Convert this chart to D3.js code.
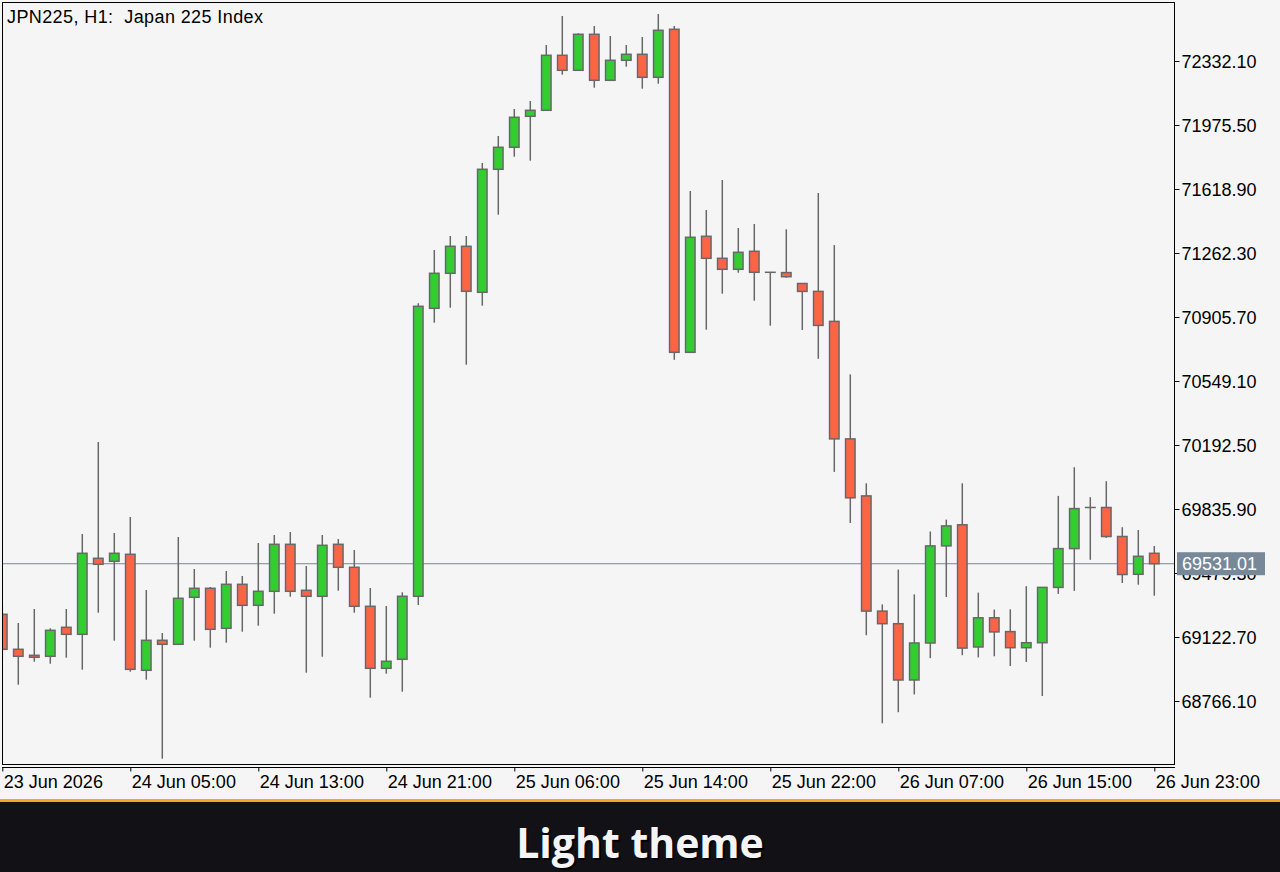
<!DOCTYPE html>
<html>
<head>
<meta charset="utf-8">
<script src="https://cdn.jsdelivr.net/npm/d3@7"></script>
<style>
  html, body { margin: 0; padding: 0; background: #f5f5f5; }
  svg { display: block; }
</style>
</head>
<body>
<svg id="chart" width="1280" height="872"></svg>
<script>
// ---- data ----
const title = "JPN225, H1:  Japan 225 Index";
const days = ["23", "24", "25", "26"];
const firstHour = [20, 1, 1, 1];
const opens = [69249.2,69054.2,69020.7,69015.2,69176.7,69137.7,69561.2,69544.5,69583.5,68937.2,
  69104.3,69082.0,69343.9,69394.0,69171.2,69416.3,69299.3,69377.3,69639.2,69382.9,
  69349.5,69639.2,69511.1,69293.8,68948.3,68998.4,69349.5,70954.2,71149.2,71299.6,
  71043.3,71728.7,71851.3,72024.0,72057.4,72363.9,72280.3,72480.9,72224.6,72336.0,
  72369.4,72241.3,72508.7,70709.0,71355.4,71232.8,71171.5,71271.8,71154.8,71153.1,
  71092.4,71048.4,70881.2,70226.5,69908.9,69267.0,69196.8,68883.1,69089.3,69630.3,
  69747.9,69067.0,69229.7,69152.8,69063.1,69090.9,69399.1,69615.3,69844.3,69844.3,
  69682.7,69472.1,69589.1];
const highs = [69300.0,69200.7,69278.7,69171.2,69278.7,69696.6,70209.2,69702.2,69791.3,69384.6,
  69145.0,69679.9,69501.6,69401.3,69490.4,69462.6,69646.5,69691.0,69707.7,69518.3,
  69691.0,69668.7,69607.5,69395.7,69295.4,69371.8,70982.0,71279.0,71357.0,71357.0,
  71763.8,71914.2,72064.7,72109.2,72421.3,72582.8,72486.5,72527.1,72471.4,72421.3,
  72465.8,72594.0,72527.1,71607.8,71501.9,71669.1,71401.6,71423.9,71154.8,71394.4,
  71092.4,71596.6,71306.3,70585.9,69979.1,69304.3,69498.2,69360.1,69710.5,69776.8,
  69979.1,69370.1,69275.4,69277.0,69405.8,69399.1,69908.9,70068.8,69901.7,69990.8,
  69734.5,69718.9,69629.7];
const lows = [69000.0,68856.9,68985.1,68973.9,69007.4,68940.5,69258.1,69102.1,68929.4,68884.8,
  68444.6,69082.0,69102.1,69063.1,69090.9,69152.2,69185.7,69252.5,69347.2,68923.8,
  69012.9,69380.7,69258.1,68784.5,68918.2,68817.9,69301.0,70873.9,70957.5,70639.9,
  70968.7,71475.7,71798.9,71776.6,72057.4,72255.8,72280.3,72183.4,72224.6,72300.4,
  72177.8,72205.6,70667.8,70709.0,70834.9,71035.5,71152.5,70996.5,70857.2,71124.7,
  70833.3,70672.8,70042.6,69757.9,69132.7,68641.8,68703.7,68802.9,69005.1,69345.6,
  69021.3,69009.0,69015.2,68961.1,68983.4,68794.0,69362.8,69379.6,69552.8,69674.9,
  69423.6,69414.1,69352.8];
const closes = [69054.2,69015.2,69009.6,69160.0,69137.7,69589.1,69527.8,69589.1,68942.7,69104.3,
  69082.0,69338.3,69394.0,69165.6,69416.3,69299.3,69377.3,69639.2,69377.3,69349.5,
  69633.6,69511.1,69293.8,68948.3,68987.3,69349.5,70965.3,71149.2,71299.6,71048.9,
  71728.7,71851.3,72018.4,72057.4,72363.9,72280.3,72480.9,72224.6,72336.0,72369.4,
  72241.3,72503.2,70709.0,71349.8,71232.8,71171.5,71266.2,71154.8,71154.8,71130.2,
  71048.4,70858.9,70226.5,69898.3,69267.0,69196.8,68883.1,69089.3,69630.3,69741.7,
  69060.9,69229.7,69151.1,69063.1,69090.9,69399.1,69615.3,69838.1,69844.3,69682.7,
  69470.9,69572.3,69531.01];
const yTicks = [72332.10,71975.50,71618.90,71262.30,70905.70,70549.10,70192.50,69835.90,69479.30,69122.70,68766.10];
const xTickLabels = ["23 Jun 2026","24 Jun 05:00","24 Jun 13:00","24 Jun 21:00","25 Jun 06:00",
  "25 Jun 14:00","25 Jun 22:00","26 Jun 07:00","26 Jun 15:00","26 Jun 23:00"];
const lastPrice = 69531.01;
const banner = "Light theme";

// hourly bar times (00:00 bar absent each day)
const times = [];
days.forEach((d, i) => { for (let h = firstHour[i]; h <= 23; h++) times.push(d + " " + String(h).padStart(2, "0")); });
const bars = times.map((t, i) => ({ t, o: opens[i], h: highs[i], l: lows[i], c: closes[i] }));
const tickTimes = xTickLabels.map((_, k) => times[k * 8]);

// ---- layout ----
const svg = d3.select("#chart");
const F = { l: 2.5, t: 2.5, r: 1174.5, b: 764.5 };
const font = "'Liberation Sans', Arial, sans-serif";

svg.append("rect").attr("x", 0).attr("y", 0).attr("width", 1280).attr("height", 800).attr("fill", "#f5f5f5");

const x = d3.scalePoint().domain(times).range([2.3, 1154.3]);
const y = d3.scaleLinear().domain([68766.10, 72332.10]).range([701, 61]);

svg.append("defs").append("clipPath").attr("id", "plotclip")
  .append("rect").attr("x", F.l + 0.5).attr("y", F.t + 0.5).attr("width", F.r - F.l - 1).attr("height", F.b - F.t - 1);

const plot = svg.append("g").attr("clip-path", "url(#plotclip)");

// price line
plot.append("line").attr("x1", F.l).attr("x2", F.r).attr("y1", y(lastPrice)).attr("y2", y(lastPrice))
  .attr("stroke", "#778899").attr("stroke-width", 1);

const outline = "#686868";
const bw = 9.5;
const g = plot.selectAll("g.c").data(bars).join("g").attr("class", "c");
g.append("line")
  .attr("x1", d => x(d.t)).attr("x2", d => x(d.t))
  .attr("y1", d => y(d.h)).attr("y2", d => y(d.l))
  .attr("stroke", outline).attr("stroke-width", 1.5);
g.filter(d => Math.abs(d.o - d.c) > 0.5).append("rect")
  .attr("x", d => x(d.t) - bw / 2)
  .attr("y", d => y(Math.max(d.o, d.c)))
  .attr("width", bw)
  .attr("height", d => Math.abs(y(d.o) - y(d.c)))
  .attr("fill", d => d.c > d.o ? "#32cd32" : "#ff6347")
  .attr("stroke", outline).attr("stroke-width", 1.5);
g.filter(d => Math.abs(d.o - d.c) <= 0.5).append("line")
  .attr("x1", d => x(d.t) - bw / 2 - 0.75).attr("x2", d => x(d.t) + bw / 2 + 0.75)
  .attr("y1", d => y(d.o)).attr("y2", d => y(d.o))
  .attr("stroke", outline).attr("stroke-width", 1.5);

// frame
svg.append("rect").attr("x", F.l).attr("y", F.t).attr("width", F.r - F.l).attr("height", F.b - F.t)
  .attr("fill", "none").attr("stroke", "#000").attr("stroke-width", 1);

// title
svg.append("text").attr("x", 7).attr("y", 23).attr("font-family", font).attr("font-size", 18)
  .attr("letter-spacing", 0.4)
  .attr("fill", "#000").attr("xml:space", "preserve").style("white-space", "pre").text(title);

// y axis
const yAxis = d3.axisRight(y).tickValues(yTicks).tickFormat(d3.format(".2f")).tickSize(5).tickPadding(2);
const ya = svg.append("g").attr("transform", `translate(${F.r},0)`).call(yAxis);
ya.select(".domain").remove();
ya.selectAll(".tick line").attr("stroke", "#000");
ya.selectAll(".tick text").attr("font-family", font).attr("font-size", 18).attr("fill", "#000").attr("dy", "0.36em");

// last price label (covers the nearby tick label, as in the terminal)
const pg = svg.append("g");
pg.append("rect").attr("x", 1177).attr("y", y(lastPrice) - 11.5).attr("width", 88).attr("height", 23).attr("fill", "#778899");
pg.append("text").attr("x", 1182).attr("y", y(lastPrice) + 6.5).attr("font-family", font).attr("font-size", 18)
  .attr("fill", "#fff").text(d3.format(".2f")(lastPrice));

// x axis
svg.append("line").attr("x1", F.l - 0.5).attr("x2", F.r + 0.5).attr("y1", 767.5).attr("y2", 767.5).attr("stroke", "#000").attr("stroke-width", 1);
const xAxis = d3.axisBottom(x).tickValues(tickTimes).tickFormat((d, i) => xTickLabels[i]).tickSize(4).tickPadding(5);
const xa = svg.append("g").attr("transform", "translate(0,767.5)").call(xAxis);
xa.select(".domain").remove();
xa.selectAll(".tick line").attr("stroke", "#000");
xa.selectAll(".tick text").attr("font-family", font).attr("font-size", 18).attr("fill", "#000")
  .attr("text-anchor", "start").attr("dx", 1).attr("dy", "0.62em");

// bottom banner
svg.append("rect").attr("x", 0).attr("y", 800).attr("width", 1280).attr("height", 72).attr("fill", "#111116");
svg.append("rect").attr("x", 0).attr("y", 799).attr("width", 1280).attr("height", 3).attr("fill", "#f5a623");
svg.append("text").attr("x", 642).attr("y", 860).attr("text-anchor", "middle")
  .attr("font-family", "'Open Sans', sans-serif").attr("font-weight", 700).attr("font-size", 41)
  .attr("fill", "#000").attr("opacity", 0.8).text(banner);
svg.append("text").attr("x", 640).attr("y", 858).attr("text-anchor", "middle")
  .attr("font-family", "'Open Sans', sans-serif").attr("font-weight", 700).attr("font-size", 41)
  .attr("fill", "#f4f4f6").text(banner);
</script>
</body>
</html>
